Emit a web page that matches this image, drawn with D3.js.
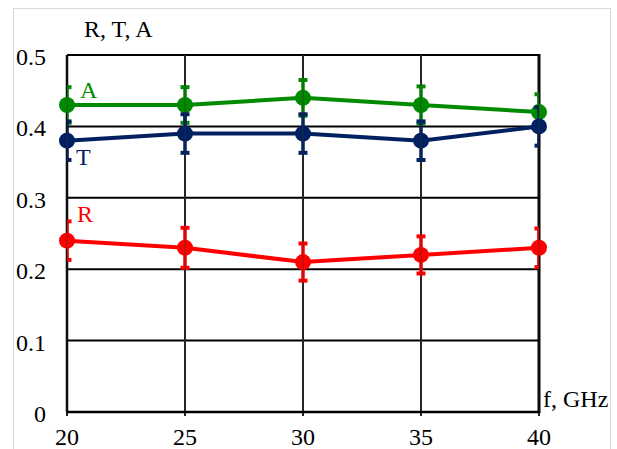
<!DOCTYPE html>
<html lang="en">
<head>
<meta charset="utf-8">
<title>R, T, A vs frequency</title>
<script src="https://cdn.jsdelivr.net/npm/d3@7"></script>
<style>
  body { margin: 0; background: #fff; }
  svg text { font-family: "Times New Roman", "Liberation Serif", "DejaVu Serif", serif; }
</style>
</head>
<body>
<script>
// data
var freqs = [20, 25, 30, 35, 40];
var valA = [0.43, 0.43, 0.44, 0.43, 0.42];
var valT = [0.38, 0.39, 0.39, 0.38, 0.40];
var valR = [0.24, 0.23, 0.21, 0.22, 0.23];
var errA = [0.025, 0.025, 0.025, 0.026, 0.025];
var errT = [0.027, 0.027, 0.027, 0.027, 0.027];
var errR = [0.027, 0.028, 0.026, 0.026, 0.027];
var yTicks = [0, 0.1, 0.2, 0.3, 0.4, 0.5];

var w = 617, h = 449;
var x0 = 67, x1 = 539, y0 = 412, y1 = 55;

var svg = d3.select("body").append("svg")
  .attr("width", w).attr("height", h);

// outer chart border
svg.append("rect")
  .attr("x", 13.5).attr("y", 8.5)
  .attr("width", 597).attr("height", 460)
  .attr("fill", "none").attr("stroke", "#d9d9d9");

var xScale = d3.scaleLinear().domain([20, 40]).range([x0, x1]);
var yScale = d3.scaleLinear().domain([0, 0.5]).range([y0, y1]);

svg.append("defs").append("clipPath").attr("id", "plot")
  .append("rect").attr("x", x0).attr("y", 0)
  .attr("width", x1 - x0).attr("height", h);

// horizontal grid
svg.append("g").selectAll("line")
  .data(yTicks.slice(1))
  .enter().append("line")
  .attr("x1", x0).attr("x2", x1)
  .attr("y1", function(d) { return yScale(d); })
  .attr("y2", function(d) { return yScale(d); })
  .attr("stroke", "#000").attr("stroke-width", 2);

// vertical grid
svg.append("g").selectAll("line")
  .data(freqs)
  .enter().append("line")
  .attr("x1", function(d) { return xScale(d); })
  .attr("x2", function(d) { return xScale(d); })
  .attr("y1", y1).attr("y2", y0 + 4)
  .attr("stroke", "#222").attr("stroke-width", 2);

// frame
svg.append("line").attr("x1", x0).attr("x2", x1).attr("y1", y0).attr("y2", y0)
  .attr("stroke", "#000").attr("stroke-width", 2.5);
svg.append("line").attr("x1", x0).attr("x2", x0).attr("y1", y1).attr("y2", y0)
  .attr("stroke", "#000").attr("stroke-width", 2.5);
svg.append("line").attr("x1", x1).attr("x2", x1).attr("y1", y1 - 1).attr("y2", y0 + 1)
  .attr("stroke", "#000").attr("stroke-width", 3);

var series = [
  { name: "R", vals: valR, err: errR, color: "#ff0000" },
  { name: "A", vals: valA, err: errA, color: "#008a00" },
  { name: "T", vals: valT, err: errT, color: "#002060" }
];

var line = d3.line()
  .x(function(d) { return xScale(d.f); })
  .y(function(d) { return yScale(d.v); });

series.forEach(function(s) {
  var pts = freqs.map(function(f, i) { return { f: f, v: s.vals[i], e: s.err[i] }; });
  var g = svg.append("g");

  // error bars
  var eb = g.append("g").attr("clip-path", "url(#plot)");
  pts.forEach(function(p) {
    var cx = xScale(p.f);
    eb.append("line")
      .attr("x1", cx).attr("x2", cx)
      .attr("y1", yScale(p.v - p.e)).attr("y2", yScale(p.v + p.e))
      .attr("stroke", s.color).attr("stroke-width", 3.5);
    [p.v - p.e, p.v + p.e].forEach(function(v) {
      eb.append("line")
        .attr("x1", cx - 4.5).attr("x2", cx + 4.5)
        .attr("y1", yScale(v)).attr("y2", yScale(v))
        .attr("stroke", s.color).attr("stroke-width", 4);
    });
  });

  g.append("path").datum(pts)
    .attr("d", line)
    .attr("fill", "none")
    .attr("stroke", s.color)
    .attr("stroke-width", 4);

  g.selectAll("circle").data(pts).enter().append("circle")
    .attr("cx", function(d) { return xScale(d.f); })
    .attr("cy", function(d) { return yScale(d.v); })
    .attr("r", 8)
    .attr("fill", s.color);
});

// thin vertical lines drawn over the markers
svg.append("g").selectAll("line")
  .data(freqs)
  .enter().append("line")
  .attr("x1", function(d) { return xScale(d); })
  .attr("x2", function(d) { return xScale(d); })
  .attr("y1", y1).attr("y2", y0)
  .attr("stroke", "#333").attr("stroke-width", 0.8)
  .attr("opacity", 0.7);

// tick labels
svg.append("g").selectAll("text")
  .data(yTicks)
  .enter().append("text")
  .attr("x", 46)
  .attr("y", function(d) { return yScale(d) + 10; })
  .attr("text-anchor", "end")
  .attr("font-size", "24px")
  .text(function(d) { return d === 0 ? "0" : d3.format(".1f")(d); });

svg.append("g").selectAll("text")
  .data(freqs)
  .enter().append("text")
  .attr("x", function(d) { return xScale(d); })
  .attr("y", 445)
  .attr("text-anchor", "middle")
  .attr("font-size", "24px")
  .text(function(d) { return d; });

// axis titles
svg.append("text").attr("x", 84).attr("y", 37)
  .attr("font-size", "24px").text("R, T, A");
svg.append("text").attr("x", 543).attr("y", 407)
  .attr("font-size", "24px").text("f, GHz");

// series labels
svg.append("text").attr("x", 80).attr("y", 98)
  .attr("font-size", "24px").attr("fill", "#008a00").text("A");
svg.append("text").attr("x", 76).attr("y", 165)
  .attr("font-size", "24px").attr("fill", "#002060").text("T");
svg.append("text").attr("x", 77).attr("y", 222)
  .attr("font-size", "24px").attr("fill", "#ff0000").text("R");
</script>
</body>
</html>
